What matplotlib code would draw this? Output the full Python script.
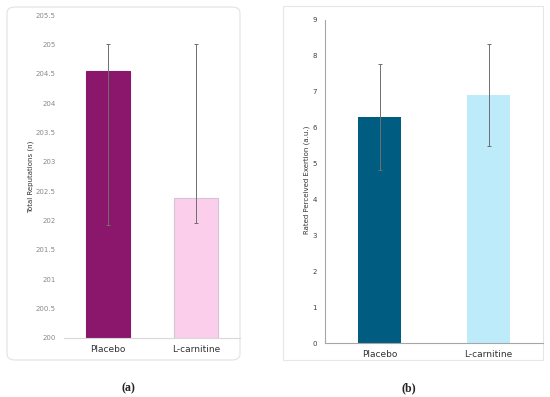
import matplotlib
matplotlib.use("Agg")
import matplotlib.pyplot as plt
from matplotlib.patches import FancyBboxPatch, Rectangle

groups = ["Placebo", "L-carnitine"]
reps_mean = [204.54, 202.38]
reps_low = [201.92, 201.95]
reps_high = [205.0, 205.0]
rpe_mean = [6.30, 6.91]
rpe_sd = [1.47, 1.42]
colors_a = ["#8A176B", "#FBCFEC"]
colors_b = ["#015C82", "#BEEBF9"]
yticks_a = [200, 200.5, 201, 201.5, 202, 202.5, 203, 203.5, 204, 204.5, 205, 205.5]
yticks_b = list(range(0, 10))

W, H = 550, 397
fig = plt.figure(figsize=(5.5, 3.97), dpi=100)

def fx(px): return px / W
def fy(py): return 1 - py / H

# panel frames
fig.patches.append(FancyBboxPatch((fx(7), fy(360)), fx(240) - fx(7), fy(7) - fy(360),
                                  boxstyle="round,pad=0,rounding_size=0.015",
                                  transform=fig.transFigure, facecolor="white",
                                  edgecolor="#e2e2e2", lw=0.8, zorder=-5))
fig.patches.append(Rectangle((fx(283), fy(360)), fx(543) - fx(283), fy(6) - fy(360),
                             transform=fig.transFigure, facecolor="white",
                             edgecolor="#e6e6e6", lw=0.8, zorder=-5))

# Panel (a)
axa = fig.add_axes([fx(64), fy(338), fx(240) - fx(64), fy(15) - fy(338)])
axa.set_zorder(2)
axa.patch.set_alpha(0)
x = [0, 1]
yerr_a = [[m - l for m, l in zip(reps_mean, reps_low)], [h - m for m, h in zip(reps_mean, reps_high)]]
axa.bar(x, [m - 200 for m in reps_mean], bottom=200, width=0.5, color=colors_a,
        edgecolor=["#8A176B", "#d9c2d3"], lw=0.8, zorder=2)
axa.errorbar(x, reps_mean, yerr=yerr_a, fmt="none", ecolor="#6f6f6f", elinewidth=0.7,
             capsize=1.5, capthick=0.7, zorder=3)
axa.set_xlim(-0.5, 1.5)
axa.set_ylim(200, 205.5)
axa.set_yticks(yticks_a)
axa.set_yticklabels([f"{t:g}" for t in yticks_a])
axa.set_xticks(x)
axa.set_xticklabels(groups)
for s in ["top", "right", "left"]:
    axa.spines[s].set_visible(False)
axa.spines["bottom"].set_color("#d9d9d9")
axa.spines["bottom"].set_linewidth(0.8)
axa.tick_params(axis="y", length=0, labelsize=5, labelcolor="#8a8a8a", pad=6)
axa.tick_params(axis="x", length=0, labelsize=6.5, labelcolor="#333333", pad=5)
fig.text(fx(31), fy(177), "Total Reputations (n)", rotation=90, ha="center", va="center",
         fontsize=5, color="#333333")

# Panel (b)
axb = fig.add_axes([fx(325), fy(343), fx(543) - fx(325), fy(20) - fy(343)])
axb.set_zorder(2)
axb.patch.set_alpha(0)
axb.bar(x, rpe_mean, width=0.4, color=colors_b, zorder=2)
axb.errorbar(x, rpe_mean, yerr=rpe_sd, fmt="none", ecolor="#6f6f6f", elinewidth=0.7,
             capsize=1.5, capthick=0.7, zorder=3)
axb.set_xlim(-0.5, 1.5)
axb.set_ylim(0, 9)
axb.set_yticks(yticks_b)
axb.set_xticks(x)
axb.set_xticklabels(groups)
for s in ["top", "right"]:
    axb.spines[s].set_visible(False)
for s in ["left", "bottom"]:
    axb.spines[s].set_color("#a6a6a6")
    axb.spines[s].set_linewidth(0.8)
axb.tick_params(axis="y", length=0, labelsize=5, labelcolor="#404040", pad=6)
axb.tick_params(axis="x", length=0, labelsize=6.5, labelcolor="#333333", pad=5)
fig.text(fx(307), fy(180), "Rated Perceived Exertion (a.u.)", rotation=90, ha="center",
         va="center", fontsize=5, color="#333333")

fig.text(fx(128), fy(388), "(a)", ha="center", va="center", fontsize=8.5,
         family="Liberation Serif", weight="bold", color="#222222")
fig.text(fx(409), fy(388), "(b)", ha="center", va="center", fontsize=8.5,
         family="Liberation Serif", weight="bold", color="#222222")

fig.savefig("out.png", dpi=100)
